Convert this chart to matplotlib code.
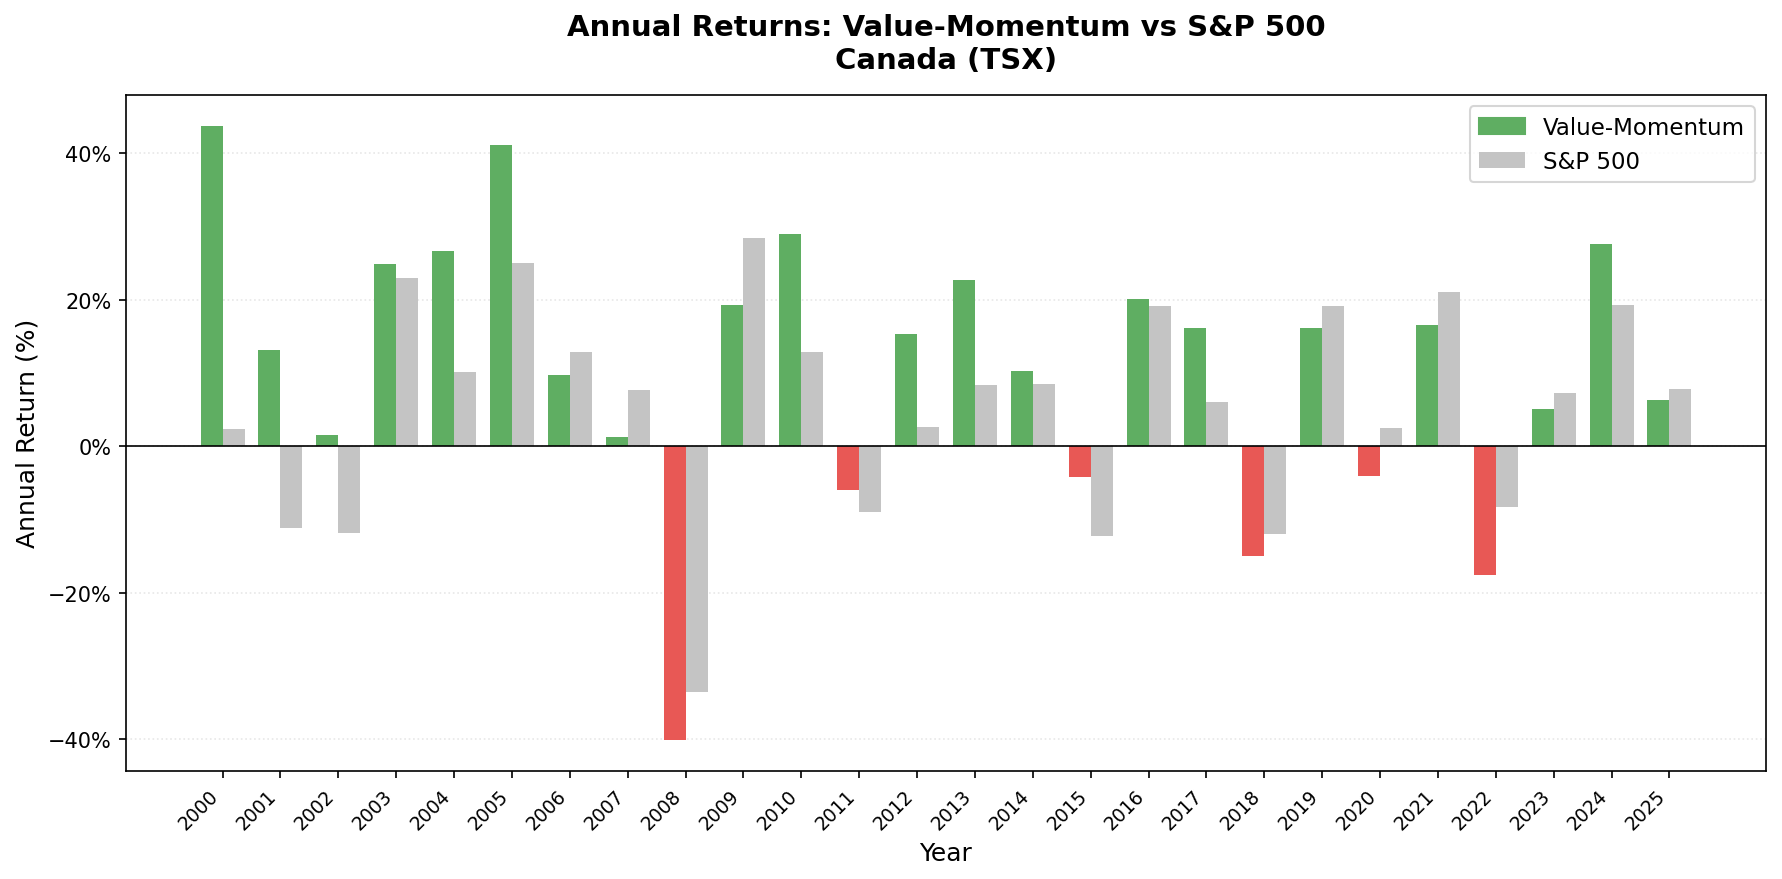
import numpy as np
import matplotlib
matplotlib.use("Agg")
import matplotlib.pyplot as plt
from matplotlib.ticker import PercentFormatter, MultipleLocator

years = np.arange(2000, 2026)
# annual returns in %
vm_returns = [43.8, 13.2, 1.6, 24.9, 26.7, 41.2, 9.8, 1.3, -40.1, 19.3,
              29.0, -6.0, 15.4, 22.7, 10.3, -4.2, 20.1, 16.2, -15.0, 16.1,
              -4.0, 16.6, -17.5, 5.1, 27.6, 6.4]
sp_returns = [2.4, -11.2, -11.8, 23.0, 10.2, 25.1, 12.9, 7.7, -33.6, 28.5,
              12.9, -8.9, 2.7, 8.4, 8.5, -12.3, 19.2, 6.0, -12.0, 19.2,
              2.5, 21.1, -8.3, 7.3, 19.3, 7.9]

green = '#5fae62'
red = '#e85855'
grey = '#c4c4c4'
width = 0.38

fig, ax = plt.subplots(figsize=(1782 / 150, 880 / 150), dpi=150)
fig.subplots_adjust(left=0.0707, right=0.991, top=0.891, bottom=0.123)

x = np.arange(len(years))
vm_colors = [green if r >= 0 else red for r in vm_returns]
ax.bar(x - width / 2, vm_returns, width, color=vm_colors, label='Value-Momentum')
ax.bar(x + width / 2, sp_returns, width, color=grey, label='S&P 500')

ax.axhline(0, color='black', linewidth=0.8)
ax.yaxis.set_major_locator(MultipleLocator(20))
ax.yaxis.set_major_formatter(PercentFormatter(100, decimals=0))
ax.grid(axis='y', linestyle=':', alpha=0.3)
ax.set_axisbelow(True)

ax.set_xticks(x)
ax.set_xticklabels(years, rotation=45, ha='right', fontsize=9)
ax.set_xlabel('Year', fontsize=12)
ax.set_ylabel('Annual Return (%)', fontsize=12)
ax.set_title('Annual Returns: Value-Momentum vs S&P 500\nCanada (TSX)',
             fontsize=14, fontweight='bold', pad=13)

leg = ax.legend(loc='upper right', fontsize=11)
leg.legend_handles[0].set_color(green)

fig.savefig('out.png', dpi=150)
